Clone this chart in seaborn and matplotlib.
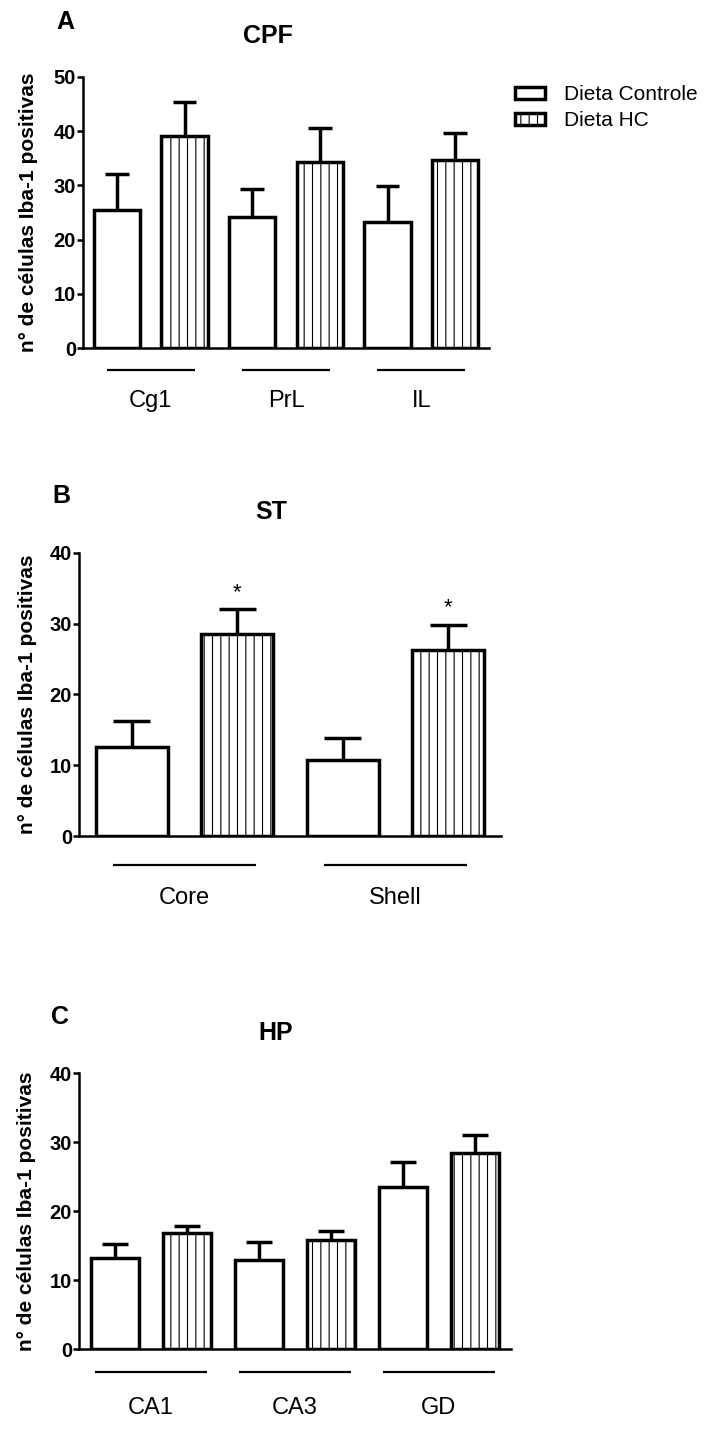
import matplotlib
matplotlib.use("Agg")
import matplotlib.pyplot as plt
import matplotlib.patches as mpatches
import matplotlib.transforms as mtransforms
import pandas as pd
import seaborn as sns

# ---------------- data: mean and SEM of Iba-1 positive cells ----------------
diets = ["Dieta Controle", "Dieta HC"]
y_label = "n° de células Iba-1 positivas"

cpf_regions = ["Cg1", "PrL", "IL"]
cpf_ctrl = [25.5, 24.2, 23.3]
cpf_ctrl_sem = [6.6, 5.1, 6.6]
cpf_hc = [39.1, 34.4, 34.7]
cpf_hc_sem = [6.3, 6.2, 4.9]

st_regions = ["Core", "Shell"]
st_ctrl = [12.5, 10.8]
st_ctrl_sem = [3.8, 3.1]
st_hc = [28.5, 26.2]
st_hc_sem = [3.5, 3.6]
st_hc_marks = ["*", "*"]

hp_regions = ["CA1", "CA3", "GD"]
hp_ctrl = [13.2, 13.0, 23.5]
hp_ctrl_sem = [2.1, 2.5, 3.6]
hp_hc = [16.8, 15.8, 28.4]
hp_hc_sem = [1.0, 1.4, 2.6]

# ---------------- style ----------------
sns.set_style("ticks")
plt.rcParams["font.family"] = ["Liberation Sans", "DejaVu Sans"]
plt.rcParams["hatch.linewidth"] = 0.8
plt.rcParams["hatch.color"] = "black"
for key in ("text.color", "axes.labelcolor", "xtick.color", "ytick.color",
            "axes.edgecolor"):
    plt.rcParams[key] = "black"

W, H = 704, 1448
fig = plt.figure(figsize=(W / 100, H / 100), dpi=100)

LW = 2.5


def px_axes(left, top, right, bottom):
    return fig.add_axes([left / W, 1 - bottom / H, (right - left) / W, (bottom - top) / H])


def draw_panel(ax, regions, ctrl, ctrl_sem, hc, hc_sem, ymax, line_y, line_half,
               label_pad, ylabel_x, marks=None):
    n = len(regions)
    df = pd.DataFrame({
        "regiao": regions * 2,
        "dieta": [diets[0]] * n + [diets[1]] * n,
        "media": ctrl + hc,
        "sem": ctrl_sem + hc_sem,
    })
    sns.barplot(data=df, x="regiao", y="media", hue="dieta", order=regions,
                hue_order=diets, palette=["white", "white"], saturation=1,
                edgecolor="black", linewidth=LW, width=1.0, gap=0.32,
                errorbar=None, legend=False, ax=ax)

    # hatch for the high-carbohydrate diet bars
    for bar in ax.containers[1]:
        bar.set_hatch("||")

    # upper SEM bars
    for container, diet in zip(ax.containers, diets):
        sub = df[df["dieta"] == diet]
        for bar, m, s in zip(container, sub["media"], sub["sem"]):
            x = bar.get_x() + bar.get_width() / 2
            cap = bar.get_width() * 0.26
            ax.vlines(x, m, m + s, color="black", lw=LW, zorder=3)
            ax.hlines(m + s, x - cap, x + cap, color="black", lw=LW, zorder=3)

    if marks is not None:
        sub = df[df["dieta"] == diets[1]]
        for bar, m, s, mk in zip(ax.containers[1], sub["media"], sub["sem"], marks):
            x = bar.get_x() + bar.get_width() / 2
            ax.text(x, m + s + 1.6, mk, ha="center", va="baseline", fontsize=16)

    ax.set_xlim(-0.5, n - 0.5)
    ax.set_ylim(0, ymax)
    ax.set_yticks(range(0, ymax + 1, 10))
    ax.set_xlabel("")
    ax.set_ylabel(y_label, fontsize=15, fontweight="bold")
    ax.yaxis.set_label_coords(ylabel_x, 0.5)

    sns.despine(ax=ax)
    for side in ("left", "bottom"):
        ax.spines[side].set_linewidth(1.8)
    ax.tick_params(axis="y", length=4.2, width=1.8, pad=0.8, labelsize=14.5)
    ax.tick_params(axis="x", length=0, pad=label_pad, labelsize=17)
    for lbl in ax.get_yticklabels():
        lbl.set_fontweight("bold")

    # group underlines
    trans = mtransforms.blended_transform_factory(ax.transData, ax.transAxes)
    for i in range(n):
        ax.plot([i - line_half, i + line_half], [line_y, line_y], transform=trans,
                color="black", lw=1.6, clip_on=False, solid_capstyle="butt")


# Panel A - CPF
axA = px_axes(83, 77, 489, 348)
draw_panel(axA, cpf_regions, cpf_ctrl, cpf_ctrl_sem, cpf_hc, cpf_hc_sem, 50,
           line_y=-22 / 271, line_half=0.325, label_pad=30, ylabel_x=-0.111)

# Panel B - ST
axB = px_axes(79, 552.7, 501, 836)
draw_panel(axB, st_regions, st_ctrl, st_ctrl_sem, st_hc, st_hc_sem, 40,
           line_y=-29 / 283.3, line_half=0.34, label_pad=36.5, ylabel_x=-0.0995,
           marks=st_hc_marks)

# Panel C - HP
axC = px_axes(79, 1073.3, 511, 1349.3)
draw_panel(axC, hp_regions, hp_ctrl, hp_ctrl_sem, hp_hc, hp_hc_sem, 40,
           line_y=-22.4 / 276, line_half=0.39, label_pad=34, ylabel_x=-0.0995)

# panel letters and titles
for letter, lx, ly, title, tx, ty in [
    ("A", 56, 29, "CPF", 268, 43.3),
    ("B", 52, 502.7, "ST", 271, 519.3),
    ("C", 51, 1024, "HP", 276, 1040),
]:
    fig.text(lx / W, 1 - ly / H, letter, fontsize=18, fontweight="bold",
             ha="left", va="baseline")
    fig.text(tx / W, 1 - ty / H, title, fontsize=18, fontweight="bold",
             ha="center", va="baseline")

# legend
handles = [
    mpatches.Patch(facecolor="white", edgecolor="black", lw=LW, label=diets[0]),
    mpatches.Patch(facecolor="white", edgecolor="black", lw=LW, hatch="||", label=diets[1]),
]
fig.legend(handles=handles, loc="upper left", bbox_to_anchor=(515 / W, 1 - 85 / H),
           frameon=False, fontsize=15, handlelength=1.44, handleheight=0.5,
           handletextpad=0.9, labelspacing=0.35, borderpad=0, borderaxespad=0)

fig.savefig("out.png", dpi=100, facecolor="white")
